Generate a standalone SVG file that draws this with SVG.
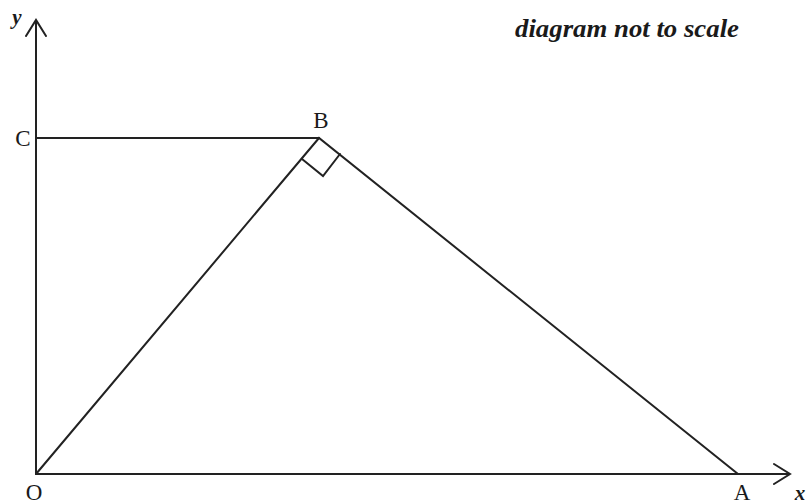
<svg xmlns="http://www.w3.org/2000/svg" width="806" height="504" viewBox="0 0 806 504">
<style>
.ln{stroke:#222;stroke-width:2;fill:none;stroke-linecap:round;stroke-linejoin:miter}
.lb{font-family:"Liberation Serif","Times New Roman",serif;font-size:23px;fill:#1a1a1a;text-anchor:middle}
.it{font-family:"Liberation Serif","Times New Roman",serif;font-style:italic;font-weight:bold;fill:#1a1a1a}
</style>
<rect width="806" height="504" fill="#fff"/>
<g id="connectors">
<path class="ln" d="M36,474 V20 M26,36 L36,20 L46,36"/>
<path class="ln" d="M36,474 H790 M774,464 L790,474 L774,484"/>
<path class="ln" d="M36,138 H319"/>
<path class="ln" d="M36,474 L319,138 L738,474"/>
<path class="ln" d="M302,159 L323,176 L340,154"/>
</g>
<g id="O"><text class="lb" x="34" y="500">O</text></g>
<g id="A"><text class="lb" x="742" y="500">A</text></g>
<g id="B"><text class="lb" x="321" y="128">B</text></g>
<g id="C"><text class="lb" x="23" y="146">C</text></g>
<g id="ylabel"><text class="it" x="17" y="24" font-size="21" text-anchor="middle">y</text></g>
<g id="xlabel"><text class="it" x="800" y="500" font-size="21" text-anchor="middle">x</text></g>
<g id="note"><text class="it" x="515" y="37" font-size="25" textLength="224" lengthAdjust="spacingAndGlyphs">diagram not to scale</text></g>
</svg>
